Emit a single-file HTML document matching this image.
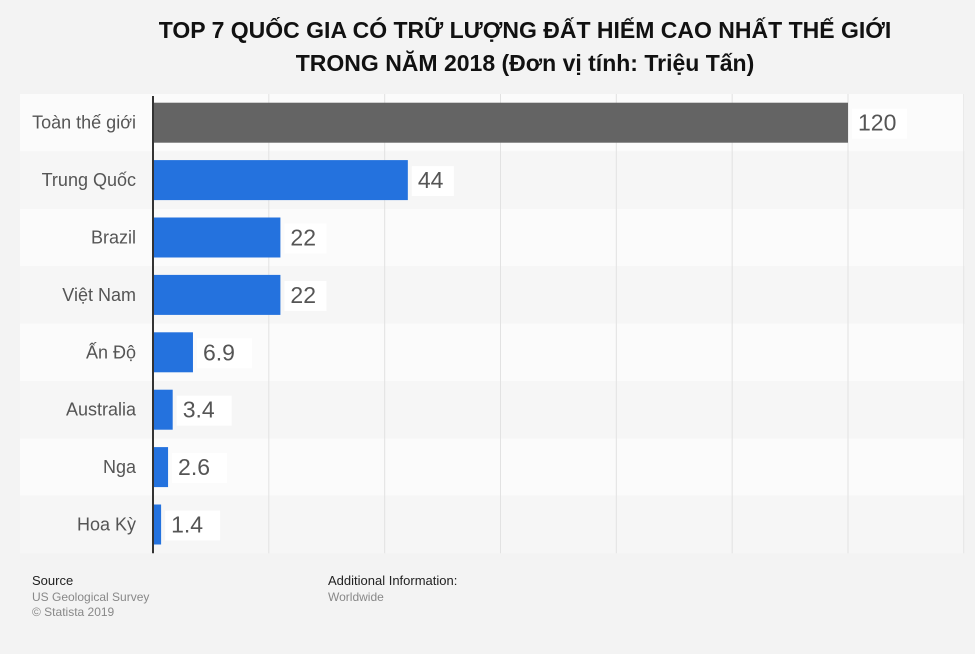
<!DOCTYPE html>
<html><head><meta charset="utf-8">
<style>
body{margin:0;width:975px;height:654px;background:#f3f3f3;font-family:"Liberation Sans","DejaVu Sans",sans-serif;overflow:hidden;position:relative}
.t{position:absolute;left:0;width:1050px;text-align:center;font-weight:bold;font-size:23px;color:#111;line-height:33px}
</style></head><body>
<div class="t" style="top:14px">TOP 7 QUỐC GIA CÓ TRỮ LƯỢNG ĐẤT HIẾM CAO NHẤT THẾ GIỚI<br>TRONG NĂM 2018 (Đơn vị tính: Triệu Tấn)</div>
<svg id="chart" width="975" height="654" style="position:absolute;left:0;top:0"></svg>
<div style="position:absolute;left:32px;top:573px;font-size:13px;color:#222">Source</div>
<div style="position:absolute;left:32px;top:590px;font-size:12px;color:#888;line-height:15px">US Geological Survey<br>© Statista 2019</div>
<div style="position:absolute;left:328px;top:573px;font-size:13px;color:#222">Additional Information:</div>
<div style="position:absolute;left:328px;top:590px;font-size:12px;color:#888">Worldwide</div>
<script>
const categories=["Toàn thế giới","Trung Quốc","Brazil","Việt Nam","Ấn Độ","Australia","Nga","Hoa Kỳ"];
const values=[120,44,22,22,6.9,3.4,2.6,1.4];
const labels=["120","44","22","22","6.9","3.4","2.6","1.4"];
const gridTicks=[20,40,60,80,100,120,140];
const svg=document.getElementById('chart');
const NS='http://www.w3.org/2000/svg';
const x0=153,pxPer=695/120,top0=94,pitch=57.4,barH=40;
const xs=v=>x0+v*pxPer;
const yRow=i=>top0+i*pitch;
function mk(t,a){const e=document.createElementNS(NS,t);for(const k in a)e.setAttribute(k,a[k]);svg.appendChild(e);return e;}
categories.forEach((c,i)=>{
  const r=mk('rect',{x:20,y:yRow(i),width:945,height:pitch,fill:i%2?'#f6f6f6':'#fbfbfb'});
  
  
});
gridTicks.forEach(t=>{
  const l=mk('line',{x1:xs(t),x2:xs(t),y1:top0,y2:yRow(categories.length),stroke:'#e2e2e2','stroke-width':1});
  
  
});
categories.forEach((c,i)=>{
  const y=yRow(i)+(pitch-barH)/2;
  const b=mk('rect',{x:x0,y:y,width:xs(values[i])-x0,height:barH,fill:i===0?'#646464':'#2472de'});
  
  
  const t=mk('text',{x:136,y:y+barH/2+6,'text-anchor':'end','font-size':18,fill:'#555'});
  t.textContent=c;
  
  
  const bx=xs(values[i])+4;
  const bg=mk('rect',{x:bx,y:y+6,width:labels[i].length*13+16,height:30,fill:'#ffffff'});
  
  
  const v=mk('text',{x:bx+6,y:y+barH/2+8,'font-size':23,fill:'#555'});
  v.textContent=labels[i];
  
  
});
const ax=mk('line',{x1:x0,x2:x0,y1:top0+2,y2:yRow(categories.length),stroke:'#333','stroke-width':2});


</script>
</body></html>
